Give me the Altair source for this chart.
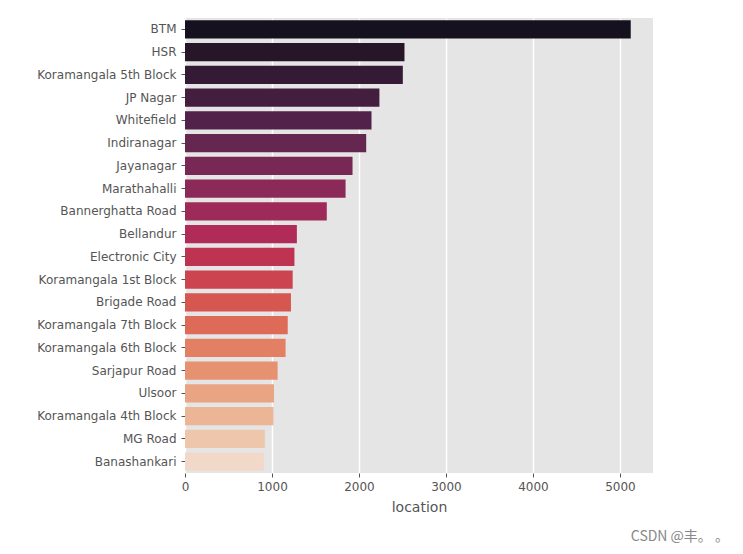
import altair as alt
import pandas as pd

locations = ["BTM", "HSR", "Koramangala 5th Block", "JP Nagar", "Whitefield",
             "Indiranagar", "Jayanagar", "Marathahalli", "Bannerghatta Road",
             "Bellandur", "Electronic City", "Koramangala 1st Block", "Brigade Road",
             "Koramangala 7th Block", "Koramangala 6th Block", "Sarjapur Road",
             "Ulsoor", "Koramangala 4th Block", "MG Road", "Banashankari"]
counts = [5124, 2523, 2504, 2235, 2144, 2083, 1926, 1846, 1630, 1286,
          1258, 1238, 1218, 1181, 1156, 1065, 1023, 1017, 918, 906]
palette = ["#15111f", "#271628", "#341a35", "#431e3f", "#53224a",
           "#652650", "#782854", "#8b2a58", "#9e2a5a", "#b02b58",
           "#bf3352", "#cb4450", "#d65650", "#de6b57", "#e37f62",
           "#e69271", "#e8a483", "#ebb596", "#eec6ab", "#f2d8c8"]

df = pd.DataFrame({"location": locations, "count": counts})

chart = alt.Chart(df).mark_bar().encode(
    y=alt.Y("location:N", sort=locations, title=None,
            scale=alt.Scale(paddingInner=0.2, paddingOuter=0.1),
            axis=alt.Axis(labelFontSize=12, labelColor="#555555", labelFont="DejaVu Sans",
                          tickColor="#555555", tickSize=4, labelPadding=5,
                          domain=False, grid=False, labelLimit=300)),
    x=alt.X("count:Q", title="location",
            scale=alt.Scale(domain=[0, 5380], nice=False),
            axis=alt.Axis(values=[0, 1000, 2000, 3000, 4000, 5000], format="d",
                          labelFlush=False,
                          labelFontSize=12, labelColor="#555555", labelFont="DejaVu Sans",
                          tickColor="#555555", tickSize=4, labelPadding=4,
                          titleFontSize=14, titleColor="#555555", titleFont="DejaVu Sans",
                          titleFontWeight="normal", titlePadding=8,
                          domain=False, grid=True, gridColor="white", gridWidth=1.5)),
    color=alt.Color("location:N", sort=locations,
                    scale=alt.Scale(domain=locations, range=palette), legend=None),
).properties(
    width=468, height=455,
    padding={"left": 177, "top": 10, "right": 82, "bottom": 80},
    autosize=alt.AutoSizeParams(type="none"),
    title=alt.TitleParams("CSDN @丰。 。", orient="bottom", anchor="end",
                          fontSize=14, color="#888888", font="Noto Sans CJK SC",
                          fontWeight="normal", dx=76, offset=16),
).configure_view(fill="#e5e5e5", stroke=None)

chart.save("out.html", embed_options={"renderer": "svg", "actions": False})
